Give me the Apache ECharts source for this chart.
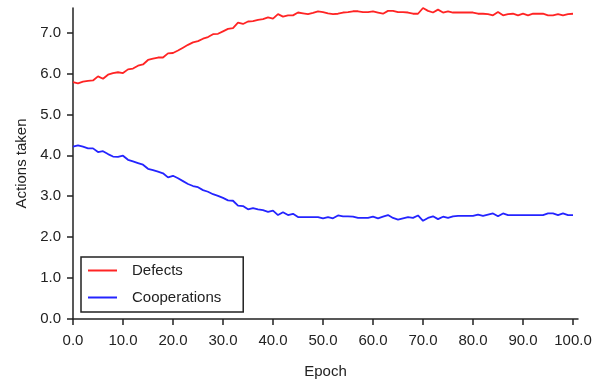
<!DOCTYPE html>
<html>
<head>
<meta charset="utf-8">
<script src="https://cdn.jsdelivr.net/npm/echarts@6/dist/echarts.min.js"></script>
<style>html,body{margin:0;padding:0;background:#fff;}#c{width:601px;height:380px;}</style>
</head>
<body>
<div id="c"></div>
<script>
const epochs = Array.from({length: 101}, (_, i) => i);
const defects = [
  5.79, 5.76, 5.80, 5.82, 5.83, 5.93, 5.87, 5.97, 6.01, 6.03,
  6.01, 6.10, 6.12, 6.19, 6.22, 6.33, 6.36, 6.39, 6.39, 6.49,
  6.50, 6.56, 6.63, 6.70, 6.76, 6.79, 6.85, 6.89, 6.96, 6.97,
  7.03, 7.09, 7.11, 7.24, 7.21, 7.27, 7.28, 7.31, 7.33, 7.37,
  7.34, 7.45, 7.39, 7.42, 7.42, 7.49, 7.47, 7.45, 7.48, 7.52,
  7.50, 7.47, 7.45, 7.46, 7.49, 7.50, 7.52, 7.52, 7.50, 7.50,
  7.52, 7.49, 7.46, 7.53, 7.53, 7.50, 7.50, 7.49, 7.46, 7.46,
  7.60, 7.53, 7.49, 7.56, 7.49, 7.52, 7.49, 7.49, 7.49, 7.49,
  7.49, 7.46, 7.46, 7.45, 7.42, 7.50, 7.42, 7.45, 7.46, 7.42,
  7.46, 7.42, 7.46, 7.46, 7.46, 7.42, 7.42, 7.45, 7.42, 7.45,
  7.46
];
const cooperations = [
  4.21, 4.24, 4.21, 4.17, 4.17, 4.08, 4.10, 4.03, 3.97, 3.96,
  3.99, 3.89, 3.85, 3.81, 3.77, 3.67, 3.64, 3.60, 3.56, 3.46,
  3.50, 3.44, 3.37, 3.30, 3.25, 3.22, 3.15, 3.11, 3.05, 3.01,
  2.96, 2.90, 2.89, 2.77, 2.76, 2.68, 2.71, 2.68, 2.66, 2.62,
  2.65, 2.54, 2.61, 2.54, 2.57, 2.49, 2.49, 2.49, 2.49, 2.49,
  2.46, 2.49, 2.46, 2.53, 2.51, 2.51, 2.50, 2.47, 2.47, 2.47,
  2.50, 2.46, 2.50, 2.54, 2.47, 2.43, 2.46, 2.49, 2.47, 2.53,
  2.40, 2.47, 2.51, 2.44, 2.50, 2.47, 2.51, 2.52, 2.52, 2.52,
  2.52, 2.55, 2.52, 2.55, 2.58, 2.51, 2.58, 2.54, 2.54, 2.54,
  2.54, 2.54, 2.54, 2.54, 2.54, 2.58, 2.58, 2.54, 2.58, 2.54,
  2.54
];
const xTicks = [0, 10, 20, 30, 40, 50, 60, 70, 80, 90, 100];
const yTicks = [0, 1, 2, 3, 4, 5, 6, 7];
const seriesNames = ['Defects', 'Cooperations'];
const xName = 'Epoch';
const yName = 'Actions taken';

const font = 'Liberation Sans, Arial, sans-serif';
const chart = echarts.init(document.getElementById('c'), null, {renderer: 'canvas'});
chart.setOption({
  animation: false,
  backgroundColor: '#fff',
  grid: {left: 73, right: 23, top: 8, bottom: 61, containLabel: false, outerBoundsMode: 'none'},
  xAxis: {
    type: 'value', min: 0, max: 101,
    name: xName, nameLocation: 'middle', nameGap: 45,
    nameTextStyle: {fontFamily: font, fontSize: 15, color: '#222'},
    axisLine: {show: true, onZero: false, lineStyle: {color: '#222', width: 1.5}},
    axisTick: {show: true, length: 6, customValues: xTicks, lineStyle: {color: '#222', width: 1.5}},
    axisLabel: {customValues: xTicks, margin: 14, fontFamily: font, fontSize: 15, color: '#222',
      formatter: v => v.toFixed(1)},
    splitLine: {show: false}
  },
  yAxis: {
    type: 'value', min: 0, max: 7.6,
    name: yName, nameLocation: 'middle', nameGap: 41, nameRotate: 90,
    nameTextStyle: {fontFamily: font, fontSize: 15, color: '#222'},
    axisLine: {show: true, onZero: false, lineStyle: {color: '#222', width: 1.5}},
    axisTick: {show: true, length: 6, customValues: yTicks, lineStyle: {color: '#222', width: 1.5}},
    axisLabel: {customValues: yTicks, margin: 12, fontFamily: font, fontSize: 15, color: '#222',
      formatter: v => v.toFixed(1)},
    splitLine: {show: false}
  },
  legend: {
    orient: 'vertical', left: 81, top: 257,
    padding: [5, 22, 6, 7],
    itemGap: 10, itemWidth: 29, itemHeight: 2,
    icon: 'rect',
    borderColor: '#222', borderWidth: 1.5, backgroundColor: '#fff',
    textStyle: {fontFamily: font, fontSize: 15, color: '#222', lineHeight: 17, padding: [0, 0, 0, 10]},
    data: seriesNames
  },
  series: [
    {name: seriesNames[0], type: 'line', data: epochs.map((e, i) => [e, defects[i]]),
     showSymbol: false, symbol: 'none', color: '#ff2424', lineStyle: {width: 1.8, color: '#ff2424'}},
    {name: seriesNames[1], type: 'line', data: epochs.map((e, i) => [e, cooperations[i]]),
     showSymbol: false, symbol: 'none', color: '#2424ff', lineStyle: {width: 1.8, color: '#2424ff'}}
  ]
});
</script>
</body>
</html>
